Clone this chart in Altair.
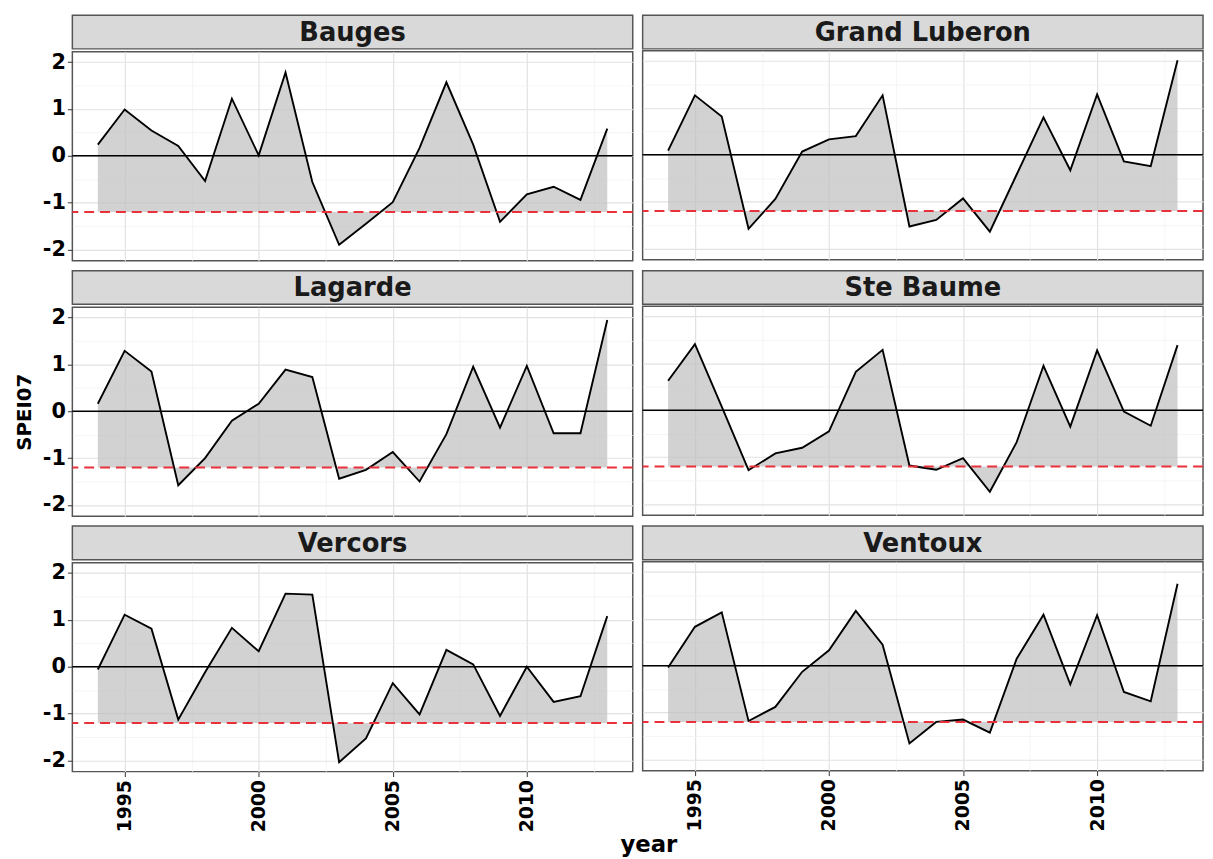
import altair as alt
import pandas as pd

# ---------------- data ----------------
years = list(range(1994, 2014))
sites = ["Bauges", "Grand Luberon", "Lagarde", "Ste Baume", "Vercors", "Ventoux"]

bauges = [0.24, 0.99, 0.54, 0.21, -0.54, 1.22, 0.01, 1.78, -0.56, -1.90,
          -1.45, -0.99, 0.17, 1.57, 0.24, -1.41, -0.82, -0.66, -0.94, 0.58]
grand_luberon = [0.09, 1.27, 0.82, -1.58, -0.94, 0.07, 0.33, 0.40, 1.27, -1.53,
                 -1.39, -0.93, -1.64, -0.42, 0.80, -0.33, 1.29, -0.14, -0.24, 2.02]
lagarde = [0.16, 1.29, 0.85, -1.58, -1.00, -0.20, 0.16, 0.89, 0.73, -1.44,
           -1.25, -0.87, -1.50, -0.49, 0.95, -0.35, 0.97, -0.47, -0.47, 1.95]
ste_baume = [0.63, 1.41, 0.08, -1.28, -0.92, -0.80, -0.45, 0.82, 1.29, -1.18,
             -1.27, -1.02, -1.74, -0.68, 0.95, -0.35, 1.28, -0.03, -0.33, 1.39]
vercors = [-0.06, 1.11, 0.81, -1.13, -0.12, 0.83, 0.33, 1.56, 1.54, -2.04,
           -1.53, -0.35, -1.02, 0.36, 0.05, -1.05, 0.00, -0.75, -0.63, 1.08]
ventoux = [-0.04, 0.83, 1.14, -1.18, -0.88, -0.13, 0.33, 1.17, 0.45, -1.66,
           -1.20, -1.15, -1.43, 0.15, 1.09, -0.40, 1.08, -0.56, -0.76, 1.75]

series = [bauges, grand_luberon, lagarde, ste_baume, vercors, ventoux]

zero_level = 0.0
drought_threshold = -1.2

x_grid_values = [1995, 1997.5, 2000, 2002.5, 2005, 2007.5, 2010, 2012.5]
y_grid_values = [-2, -1.5, -1, -0.5, 0, 0.5, 1, 1.5, 2]

rows = []
for s, vals in zip(sites, series):
    for yr, v in zip(years, vals):
        rows.append({"site": s, "year": yr, "spei": v})
df = pd.DataFrame(rows)

# ---------------- style ----------------
FONT = "DejaVu Sans"
W = 566
H = 211
STRIP_H = 34
X_DOMAIN = [1993.05, 2013.95]
Y_DOMAIN = [-2.24, 2.22]
BORDER = "#555555"

x_major = "datum.value % 5 === 0"
y_major = "datum.value % 1 === 0"


def cond(test, a, b):
    return {"condition": {"test": test, "value": a}, "value": b}


def x_axis(show):
    common = dict(values=x_grid_values, grid=True, domain=False, title=None,
                  gridWidth=cond(x_major, 1.2, 0.7),
                  gridColor=cond(x_major, "#E2E2E2", "#F1F1F1"))
    if show:
        return alt.Axis(**common, labelExpr=x_major + " ? '' + datum.value : ''",
                        labelAngle=270, ticks=True, tickSize=5, tickColor="#333333",
                        tickOpacity=cond(x_major, 1, 0), labelPadding=3,
                        labelFont=FONT, labelFontSize=19, labelFontWeight="bold",
                        labelColor="black", labelOverlap=False, labelFlush=False)
    return alt.Axis(**common, labels=False, ticks=False)


def y_axis(show, title=None):
    common = dict(values=y_grid_values, grid=True, domain=False,
                  gridWidth=cond(y_major, 1.2, 0.7),
                  gridColor=cond(y_major, "#E2E2E2", "#F1F1F1"))
    if show:
        kw = dict(labelExpr=y_major + " ? '' + datum.value : ''",
                  ticks=True, tickSize=5, tickColor="#333333",
                  tickOpacity=cond(y_major, 1, 0), labelPadding=2,
                  labelFont=FONT, labelFontSize=21, labelFontWeight="bold",
                  labelColor="black", labelOverlap=False, labelFlush=False)
        if title:
            return alt.Axis(**common, **kw, title=title, titlePadding=8,
                            titleFont=FONT, titleFontSize=20, titleFontWeight="bold",
                            titleColor="black")
        return alt.Axis(**common, **kw, title=None)
    return alt.Axis(**common, labels=False, ticks=False, title=None)


def panel(name, show_x, show_y, ytitle=None):
    base = alt.Chart(df).transform_filter(alt.datum.site == name)
    x = alt.X("year:Q", scale=alt.Scale(domain=X_DOMAIN, nice=False, zero=False),
              axis=x_axis(show_x))
    y = alt.Y("spei:Q", scale=alt.Scale(domain=Y_DOMAIN, nice=False, zero=False),
              axis=y_axis(show_y, ytitle))
    area = base.mark_area(color="#BFBFBF", opacity=0.7).encode(
        x=x, y=y, y2=alt.datum(drought_threshold))
    line = base.mark_line(color="black", strokeWidth=1.9).encode(x=x, y=y)
    zero = alt.Chart(pd.DataFrame({"spei": [zero_level]})).mark_rule(
        color="black", strokeWidth=1.5).encode(y=y)
    red = alt.Chart(pd.DataFrame({"spei": [drought_threshold]})).mark_rule(
        color="#E8313A", strokeWidth=2, strokeDash=[10, 6]).encode(y=y)
    plot = alt.layer(area, zero, line, red).properties(width=W, height=H)

    strip = alt.Chart(pd.DataFrame({"site": [name]})).mark_text(
        font=FONT, fontSize=26, fontWeight="bold", color="#1A1A1A",
        align="center", baseline="middle").encode(
        text="site:N", x=alt.value(W / 2), y=alt.value(STRIP_H / 2 + 1)
    ).properties(width=W, height=STRIP_H,
                 view=alt.ViewBackground(fill="#D9D9D9", stroke=BORDER, strokeWidth=1.5))
    return alt.vconcat(strip, plot, spacing=0)


row1 = alt.hconcat(panel("Bauges", False, True), panel("Grand Luberon", False, False), spacing=6)
row2 = alt.hconcat(panel("Lagarde", False, True, "SPEI07"), panel("Ste Baume", False, False), spacing=6)
row3 = alt.hconcat(panel("Vercors", True, True), panel("Ventoux", True, False), spacing=6)

chart = alt.vconcat(row1, row2, row3, spacing=8).properties(
    padding={"left": 5, "top": 2, "right": 0, "bottom": 0},
    title=alt.TitleParams("year", orient="bottom", anchor="middle", fontSize=23,
                          font=FONT, fontWeight="bold", color="black", offset=2, dx=40),
).configure_view(stroke=BORDER, strokeWidth=1.5).configure_concat(spacing=6)

chart.save("out.html", embed_options={"renderer": "svg", "actions": False})
